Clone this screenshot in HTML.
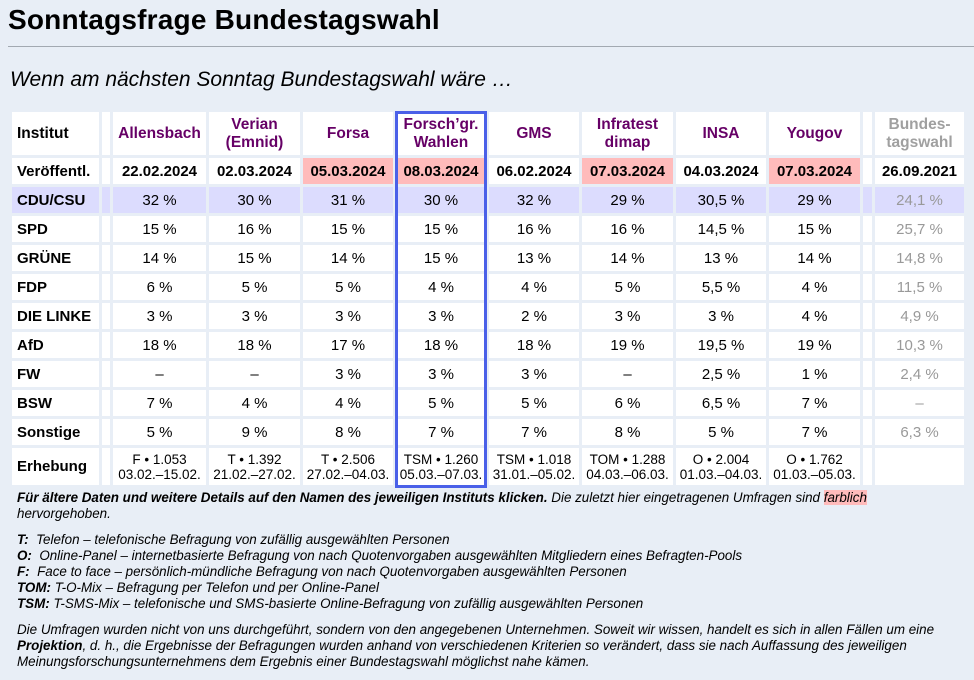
<!DOCTYPE html>
<html><head><meta charset="utf-8"><style>
html,body{margin:0;padding:0}
body{width:974px;height:678px;background:#e8eef6;font-family:"Liberation Sans",Arial,sans-serif;position:relative;overflow:hidden;color:#000}
h1{position:absolute;left:8px;top:4px;margin:0;font-size:28px;font-weight:bold;letter-spacing:0.2px}
.rule{position:absolute;left:8px;right:0;top:46px;height:1px;background:#a2a9b1}
.sub{position:absolute;left:10px;top:68px;font-size:21px;font-style:italic}
table{position:absolute;left:9px;top:109px;border-collapse:separate;border-spacing:3px;table-layout:fixed;font-size:15px}
td{background:#fff;text-align:center;padding:0;overflow:hidden;white-space:nowrap}
td.l{text-align:left;font-weight:bold;padding-left:5px}
tr.h td{height:43px;font-weight:bold;color:#660066;line-height:18px;font-size:15.5px}
tr.d td{height:26px}
tr.v td{height:26px;font-weight:bold}
tr.c td{background:#dcdcfe}
tr.e td{height:37px;font-size:13.5px;line-height:15px}
td.g{color:#999}
tr.h td.g{color:#a0a0a0}
.p{background:#ffbbbb!important}
.box{position:absolute;left:395px;top:111px;width:86px;height:371px;border:3px solid #4a60e8}
.notes{position:absolute;left:17px;top:490px;font-size:13.4px;font-style:italic;line-height:16px;font-family:"Liberation Sans Narrow","Liberation Sans",sans-serif;width:955px}
.notes p{margin:0 0 10px 0}
.hl{background:#ffbbbb;font-style:italic}
</style></head><body>
<h1>Sonntagsfrage Bundestagswahl</h1>
<div class="rule"></div>
<div class="sub">Wenn am nächsten Sonntag Bundestagswahl wäre …</div>
<table>
<colgroup><col style="width:87px"><col style="width:8px"><col style="width:93px"><col style="width:91px"><col style="width:90px"><col style="width:90px"><col style="width:90px"><col style="width:91px"><col style="width:90px"><col style="width:91px"><col style="width:9px"><col style="width:89px"></colgroup>
<tr class="h"><td class="l" style="color:#000">Institut</td><td></td><td>Allensbach</td><td>Verian<br>(Emnid)</td><td>Forsa</td><td>Forsch’gr.<br>Wahlen</td><td>GMS</td><td>Infratest<br>dimap</td><td>INSA</td><td>Yougov</td><td></td><td class="g">Bundes-<br>tagswahl</td></tr>
<tr class="v"><td class="l">Veröffentl.</td><td></td><td>22.02.2024</td><td>02.03.2024</td><td class="p">05.03.2024</td><td class="p">08.03.2024</td><td>06.02.2024</td><td class="p">07.03.2024</td><td>04.03.2024</td><td class="p">07.03.2024</td><td></td><td>26.09.2021</td></tr>
<tr class="d c"><td class="l">CDU/CSU</td><td></td><td>32 %</td><td>30 %</td><td>31 %</td><td>30 %</td><td>32 %</td><td>29 %</td><td>30,5 %</td><td>29 %</td><td></td><td class="g">24,1 %</td></tr>
<tr class="d"><td class="l">SPD</td><td></td><td>15 %</td><td>16 %</td><td>15 %</td><td>15 %</td><td>16 %</td><td>16 %</td><td>14,5 %</td><td>15 %</td><td></td><td class="g">25,7 %</td></tr>
<tr class="d"><td class="l">GRÜNE</td><td></td><td>14 %</td><td>15 %</td><td>14 %</td><td>15 %</td><td>13 %</td><td>14 %</td><td>13 %</td><td>14 %</td><td></td><td class="g">14,8 %</td></tr>
<tr class="d"><td class="l">FDP</td><td></td><td>6 %</td><td>5 %</td><td>5 %</td><td>4 %</td><td>4 %</td><td>5 %</td><td>5,5 %</td><td>4 %</td><td></td><td class="g">11,5 %</td></tr>
<tr class="d"><td class="l">DIE LINKE</td><td></td><td>3 %</td><td>3 %</td><td>3 %</td><td>3 %</td><td>2 %</td><td>3 %</td><td>3 %</td><td>4 %</td><td></td><td class="g">4,9 %</td></tr>
<tr class="d"><td class="l">AfD</td><td></td><td>18 %</td><td>18 %</td><td>17 %</td><td>18 %</td><td>18 %</td><td>19 %</td><td>19,5 %</td><td>19 %</td><td></td><td class="g">10,3 %</td></tr>
<tr class="d"><td class="l">FW</td><td></td><td>–</td><td>–</td><td>3 %</td><td>3 %</td><td>3 %</td><td>–</td><td>2,5 %</td><td>1 %</td><td></td><td class="g">2,4 %</td></tr>
<tr class="d"><td class="l">BSW</td><td></td><td>7 %</td><td>4 %</td><td>4 %</td><td>5 %</td><td>5 %</td><td>6 %</td><td>6,5 %</td><td>7 %</td><td></td><td class="g">–</td></tr>
<tr class="d"><td class="l">Sonstige</td><td></td><td>5 %</td><td>9 %</td><td>8 %</td><td>7 %</td><td>7 %</td><td>8 %</td><td>5 %</td><td>7 %</td><td></td><td class="g">6,3 %</td></tr>
<tr class="e"><td class="l" style="font-size:15px">Erhebung</td><td></td><td>F • 1.053<br>03.02.–15.02.</td><td>T • 1.392<br>21.02.–27.02.</td><td>T • 2.506<br>27.02.–04.03.</td><td>TSM • 1.260<br>05.03.–07.03.</td><td>TSM • 1.018<br>31.01.–05.02.</td><td>TOM • 1.288<br>04.03.–06.03.</td><td>O • 2.004<br>01.03.–04.03.</td><td>O • 1.762<br>01.03.–05.03.</td><td></td><td></td></tr>
</table>
<div class="box"></div>
<div class="notes">
<p><b>Für ältere Daten und weitere Details auf den Namen des jeweiligen Instituts klicken.</b> Die zuletzt hier eingetragenen Umfragen sind <span class="hl">farblich</span><br>hervorgehoben.</p>
<p><b>T:</b>&nbsp; Telefon – telefonische Befragung von zufällig ausgewählten Personen<br>
<b>O:</b>&nbsp; Online-Panel – internetbasierte Befragung von nach Quotenvorgaben ausgewählten Mitgliedern eines Befragten-Pools<br>
<b>F:</b>&nbsp; Face to face – persönlich-mündliche Befragung von nach Quotenvorgaben ausgewählten Personen<br>
<b>TOM:</b> T-O-Mix – Befragung per Telefon und per Online-Panel<br>
<b>TSM:</b> T-SMS-Mix – telefonische und SMS-basierte Online-Befragung von zufällig ausgewählten Personen</p>
<p>Die Umfragen wurden nicht von uns durchgeführt, sondern von den angegebenen Unternehmen. Soweit wir wissen, handelt es sich in allen Fällen um eine<br><b>Projektion</b>, d. h., die Ergebnisse der Befragungen wurden anhand von verschiedenen Kriterien so verändert, dass sie nach Auffassung des jeweiligen<br>Meinungsforschungsunternehmens dem Ergebnis einer Bundestagswahl möglichst nahe kämen.</p>
</div>
</body></html>
